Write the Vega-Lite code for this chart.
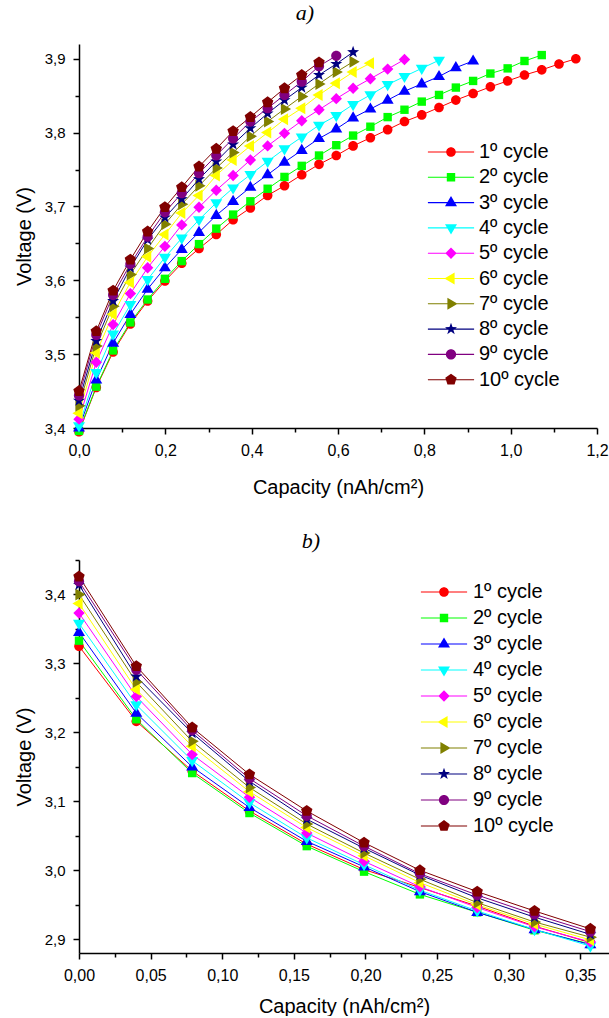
{
  "$schema": "https://vega.github.io/schema/vega-lite/v6.json",
  "background": "white",
  "padding": {"left": 14, "top": 2, "right": 0, "bottom": 0},
  "spacing": 33,
  "datasets": {
    "charge": [
      {"c":"1º cycle","q":0,"v":3.395},{"c":"1º cycle","q":0.040,"v":3.455},{"c":"1º cycle","q":0.079,"v":3.503},{"c":"1º cycle","q":0.119,"v":3.541},{"c":"1º cycle","q":0.159,"v":3.572},{"c":"1º cycle","q":0.199,"v":3.599},{"c":"1º cycle","q":0.238,"v":3.623},{"c":"1º cycle","q":0.278,"v":3.643},{"c":"1º cycle","q":0.318,"v":3.662},{"c":"1º cycle","q":0.357,"v":3.682},{"c":"1º cycle","q":0.397,"v":3.698},{"c":"1º cycle","q":0.437,"v":3.715},{"c":"1º cycle","q":0.476,"v":3.728},{"c":"1º cycle","q":0.516,"v":3.743},{"c":"1º cycle","q":0.556,"v":3.757},{"c":"1º cycle","q":0.596,"v":3.769},{"c":"1º cycle","q":0.635,"v":3.782},{"c":"1º cycle","q":0.675,"v":3.793},{"c":"1º cycle","q":0.715,"v":3.804},{"c":"1º cycle","q":0.754,"v":3.815},{"c":"1º cycle","q":0.794,"v":3.824},{"c":"1º cycle","q":0.834,"v":3.834},{"c":"1º cycle","q":0.873,"v":3.844},{"c":"1º cycle","q":0.913,"v":3.853},{"c":"1º cycle","q":0.953,"v":3.862},{"c":"1º cycle","q":0.993,"v":3.870},{"c":"1º cycle","q":1.032,"v":3.878},{"c":"1º cycle","q":1.072,"v":3.885},{"c":"1º cycle","q":1.112,"v":3.893},{"c":"1º cycle","q":1.151,"v":3.900},
      {"c":"2º cycle","q":0,"v":3.396},{"c":"2º cycle","q":0.040,"v":3.456},{"c":"2º cycle","q":0.079,"v":3.505},{"c":"2º cycle","q":0.119,"v":3.543},{"c":"2º cycle","q":0.159,"v":3.574},{"c":"2º cycle","q":0.199,"v":3.602},{"c":"2º cycle","q":0.238,"v":3.626},{"c":"2º cycle","q":0.278,"v":3.649},{"c":"2º cycle","q":0.318,"v":3.670},{"c":"2º cycle","q":0.357,"v":3.689},{"c":"2º cycle","q":0.397,"v":3.707},{"c":"2º cycle","q":0.437,"v":3.724},{"c":"2º cycle","q":0.476,"v":3.740},{"c":"2º cycle","q":0.516,"v":3.755},{"c":"2º cycle","q":0.556,"v":3.769},{"c":"2º cycle","q":0.596,"v":3.783},{"c":"2º cycle","q":0.635,"v":3.796},{"c":"2º cycle","q":0.675,"v":3.808},{"c":"2º cycle","q":0.715,"v":3.821},{"c":"2º cycle","q":0.754,"v":3.831},{"c":"2º cycle","q":0.794,"v":3.842},{"c":"2º cycle","q":0.834,"v":3.851},{"c":"2º cycle","q":0.873,"v":3.861},{"c":"2º cycle","q":0.913,"v":3.870},{"c":"2º cycle","q":0.953,"v":3.880},{"c":"2º cycle","q":0.993,"v":3.887},{"c":"2º cycle","q":1.032,"v":3.897},{"c":"2º cycle","q":1.072,"v":3.905},
      {"c":"3º cycle","q":0,"v":3.400},{"c":"3º cycle","q":0.040,"v":3.465},{"c":"3º cycle","q":0.079,"v":3.515},{"c":"3º cycle","q":0.119,"v":3.554},{"c":"3º cycle","q":0.159,"v":3.588},{"c":"3º cycle","q":0.199,"v":3.617},{"c":"3º cycle","q":0.238,"v":3.642},{"c":"3º cycle","q":0.278,"v":3.665},{"c":"3º cycle","q":0.318,"v":3.688},{"c":"3º cycle","q":0.357,"v":3.707},{"c":"3º cycle","q":0.397,"v":3.726},{"c":"3º cycle","q":0.437,"v":3.743},{"c":"3º cycle","q":0.476,"v":3.760},{"c":"3º cycle","q":0.516,"v":3.776},{"c":"3º cycle","q":0.556,"v":3.792},{"c":"3º cycle","q":0.596,"v":3.805},{"c":"3º cycle","q":0.635,"v":3.820},{"c":"3º cycle","q":0.675,"v":3.832},{"c":"3º cycle","q":0.715,"v":3.844},{"c":"3º cycle","q":0.754,"v":3.856},{"c":"3º cycle","q":0.794,"v":3.866},{"c":"3º cycle","q":0.834,"v":3.876},{"c":"3º cycle","q":0.873,"v":3.888},{"c":"3º cycle","q":0.913,"v":3.897},
      {"c":"4º cycle","q":0,"v":3.403},{"c":"4º cycle","q":0.040,"v":3.475},{"c":"4º cycle","q":0.079,"v":3.527},{"c":"4º cycle","q":0.119,"v":3.567},{"c":"4º cycle","q":0.159,"v":3.601},{"c":"4º cycle","q":0.199,"v":3.631},{"c":"4º cycle","q":0.238,"v":3.657},{"c":"4º cycle","q":0.278,"v":3.682},{"c":"4º cycle","q":0.318,"v":3.705},{"c":"4º cycle","q":0.357,"v":3.725},{"c":"4º cycle","q":0.397,"v":3.743},{"c":"4º cycle","q":0.437,"v":3.761},{"c":"4º cycle","q":0.476,"v":3.778},{"c":"4º cycle","q":0.516,"v":3.794},{"c":"4º cycle","q":0.556,"v":3.810},{"c":"4º cycle","q":0.596,"v":3.823},{"c":"4º cycle","q":0.635,"v":3.838},{"c":"4º cycle","q":0.675,"v":3.851},{"c":"4º cycle","q":0.715,"v":3.865},{"c":"4º cycle","q":0.754,"v":3.876},{"c":"4º cycle","q":0.794,"v":3.887},{"c":"4º cycle","q":0.834,"v":3.898},
      {"c":"5º cycle","q":0,"v":3.412},{"c":"5º cycle","q":0.040,"v":3.489},{"c":"5º cycle","q":0.079,"v":3.540},{"c":"5º cycle","q":0.119,"v":3.582},{"c":"5º cycle","q":0.159,"v":3.617},{"c":"5º cycle","q":0.199,"v":3.646},{"c":"5º cycle","q":0.238,"v":3.675},{"c":"5º cycle","q":0.278,"v":3.699},{"c":"5º cycle","q":0.318,"v":3.722},{"c":"5º cycle","q":0.357,"v":3.742},{"c":"5º cycle","q":0.397,"v":3.763},{"c":"5º cycle","q":0.437,"v":3.782},{"c":"5º cycle","q":0.476,"v":3.799},{"c":"5º cycle","q":0.516,"v":3.816},{"c":"5º cycle","q":0.556,"v":3.831},{"c":"5º cycle","q":0.596,"v":3.846},{"c":"5º cycle","q":0.635,"v":3.860},{"c":"5º cycle","q":0.675,"v":3.873},{"c":"5º cycle","q":0.715,"v":3.886},{"c":"5º cycle","q":0.754,"v":3.899},
      {"c":"6º cycle","q":0,"v":3.420},{"c":"6º cycle","q":0.040,"v":3.502},{"c":"6º cycle","q":0.079,"v":3.554},{"c":"6º cycle","q":0.119,"v":3.597},{"c":"6º cycle","q":0.159,"v":3.632},{"c":"6º cycle","q":0.199,"v":3.662},{"c":"6º cycle","q":0.238,"v":3.691},{"c":"6º cycle","q":0.278,"v":3.715},{"c":"6º cycle","q":0.318,"v":3.742},{"c":"6º cycle","q":0.357,"v":3.763},{"c":"6º cycle","q":0.397,"v":3.782},{"c":"6º cycle","q":0.437,"v":3.800},{"c":"6º cycle","q":0.476,"v":3.818},{"c":"6º cycle","q":0.516,"v":3.833},{"c":"6º cycle","q":0.556,"v":3.851},{"c":"6º cycle","q":0.596,"v":3.867},{"c":"6º cycle","q":0.635,"v":3.882},{"c":"6º cycle","q":0.675,"v":3.894},
      {"c":"7º cycle","q":0,"v":3.430},{"c":"7º cycle","q":0.040,"v":3.511},{"c":"7º cycle","q":0.079,"v":3.565},{"c":"7º cycle","q":0.119,"v":3.608},{"c":"7º cycle","q":0.159,"v":3.643},{"c":"7º cycle","q":0.199,"v":3.676},{"c":"7º cycle","q":0.238,"v":3.703},{"c":"7º cycle","q":0.278,"v":3.728},{"c":"7º cycle","q":0.318,"v":3.752},{"c":"7º cycle","q":0.357,"v":3.773},{"c":"7º cycle","q":0.397,"v":3.795},{"c":"7º cycle","q":0.437,"v":3.815},{"c":"7º cycle","q":0.476,"v":3.832},{"c":"7º cycle","q":0.516,"v":3.849},{"c":"7º cycle","q":0.556,"v":3.866},{"c":"7º cycle","q":0.596,"v":3.882},{"c":"7º cycle","q":0.635,"v":3.896},
      {"c":"8º cycle","q":0,"v":3.437},{"c":"8º cycle","q":0.040,"v":3.518},{"c":"8º cycle","q":0.079,"v":3.572},{"c":"8º cycle","q":0.119,"v":3.617},{"c":"8º cycle","q":0.159,"v":3.655},{"c":"8º cycle","q":0.199,"v":3.685},{"c":"8º cycle","q":0.238,"v":3.710},{"c":"8º cycle","q":0.278,"v":3.737},{"c":"8º cycle","q":0.318,"v":3.761},{"c":"8º cycle","q":0.357,"v":3.784},{"c":"8º cycle","q":0.397,"v":3.806},{"c":"8º cycle","q":0.437,"v":3.826},{"c":"8º cycle","q":0.476,"v":3.844},{"c":"8º cycle","q":0.516,"v":3.861},{"c":"8º cycle","q":0.556,"v":3.878},{"c":"8º cycle","q":0.596,"v":3.893},{"c":"8º cycle","q":0.635,"v":3.909},
      {"c":"9º cycle","q":0,"v":3.444},{"c":"9º cycle","q":0.040,"v":3.526},{"c":"9º cycle","q":0.079,"v":3.580},{"c":"9º cycle","q":0.119,"v":3.622},{"c":"9º cycle","q":0.159,"v":3.659},{"c":"9º cycle","q":0.199,"v":3.692},{"c":"9º cycle","q":0.238,"v":3.718},{"c":"9º cycle","q":0.278,"v":3.745},{"c":"9º cycle","q":0.318,"v":3.769},{"c":"9º cycle","q":0.357,"v":3.792},{"c":"9º cycle","q":0.397,"v":3.815},{"c":"9º cycle","q":0.437,"v":3.833},{"c":"9º cycle","q":0.476,"v":3.851},{"c":"9º cycle","q":0.516,"v":3.869},{"c":"9º cycle","q":0.556,"v":3.890},{"c":"9º cycle","q":0.596,"v":3.904},
      {"c":"10º cycle","q":0,"v":3.450},{"c":"10º cycle","q":0.040,"v":3.531},{"c":"10º cycle","q":0.079,"v":3.586},{"c":"10º cycle","q":0.119,"v":3.628},{"c":"10º cycle","q":0.159,"v":3.666},{"c":"10º cycle","q":0.199,"v":3.699},{"c":"10º cycle","q":0.238,"v":3.726},{"c":"10º cycle","q":0.278,"v":3.754},{"c":"10º cycle","q":0.318,"v":3.778},{"c":"10º cycle","q":0.357,"v":3.802},{"c":"10º cycle","q":0.397,"v":3.821},{"c":"10º cycle","q":0.437,"v":3.841},{"c":"10º cycle","q":0.476,"v":3.860},{"c":"10º cycle","q":0.516,"v":3.878},{"c":"10º cycle","q":0.556,"v":3.895}
    ],
    "discharge": [
      {"c":"1º cycle","q":0,"v":3.325},{"c":"1º cycle","q":0.040,"v":3.216},{"c":"1º cycle","q":0.079,"v":3.144},{"c":"1º cycle","q":0.119,"v":3.086},{"c":"1º cycle","q":0.159,"v":3.038},{"c":"1º cycle","q":0.199,"v":3.001},{"c":"1º cycle","q":0.238,"v":2.975},{"c":"1º cycle","q":0.278,"v":2.948},{"c":"1º cycle","q":0.318,"v":2.919},{"c":"1º cycle","q":0.357,"v":2.895},
      {"c":"2º cycle","q":0,"v":3.333},{"c":"2º cycle","q":0.040,"v":3.219},{"c":"2º cycle","q":0.079,"v":3.141},{"c":"2º cycle","q":0.119,"v":3.083},{"c":"2º cycle","q":0.159,"v":3.035},{"c":"2º cycle","q":0.199,"v":2.998},{"c":"2º cycle","q":0.238,"v":2.965},{"c":"2º cycle","q":0.278,"v":2.939},{"c":"2º cycle","q":0.318,"v":2.913},{"c":"2º cycle","q":0.357,"v":2.893},
      {"c":"3º cycle","q":0,"v":3.345},{"c":"3º cycle","q":0.040,"v":3.228},{"c":"3º cycle","q":0.079,"v":3.150},{"c":"3º cycle","q":0.119,"v":3.091},{"c":"3º cycle","q":0.159,"v":3.042},{"c":"3º cycle","q":0.199,"v":3.005},{"c":"3º cycle","q":0.238,"v":2.969},{"c":"3º cycle","q":0.278,"v":2.939},{"c":"3º cycle","q":0.318,"v":2.914},{"c":"3º cycle","q":0.357,"v":2.892},
      {"c":"4º cycle","q":0,"v":3.358},{"c":"4º cycle","q":0.040,"v":3.240},{"c":"4º cycle","q":0.079,"v":3.159},{"c":"4º cycle","q":0.119,"v":3.098},{"c":"4º cycle","q":0.159,"v":3.047},{"c":"4º cycle","q":0.199,"v":3.008},{"c":"4º cycle","q":0.238,"v":2.971},{"c":"4º cycle","q":0.278,"v":2.941},{"c":"4º cycle","q":0.318,"v":2.914},{"c":"4º cycle","q":0.357,"v":2.890},
      {"c":"5º cycle","q":0,"v":3.373},{"c":"5º cycle","q":0.040,"v":3.252},{"c":"5º cycle","q":0.079,"v":3.168},{"c":"5º cycle","q":0.119,"v":3.106},{"c":"5º cycle","q":0.159,"v":3.054},{"c":"5º cycle","q":0.199,"v":3.013},{"c":"5º cycle","q":0.238,"v":2.976},{"c":"5º cycle","q":0.278,"v":2.946},{"c":"5º cycle","q":0.318,"v":2.918},{"c":"5º cycle","q":0.357,"v":2.896},
      {"c":"6º cycle","q":0,"v":3.387},{"c":"6º cycle","q":0.040,"v":3.262},{"c":"6º cycle","q":0.079,"v":3.180},{"c":"6º cycle","q":0.119,"v":3.114},{"c":"6º cycle","q":0.159,"v":3.062},{"c":"6º cycle","q":0.199,"v":3.021},{"c":"6º cycle","q":0.238,"v":2.982},{"c":"6º cycle","q":0.278,"v":2.950},{"c":"6º cycle","q":0.318,"v":2.922},{"c":"6º cycle","q":0.357,"v":2.899},
      {"c":"7º cycle","q":0,"v":3.400},{"c":"7º cycle","q":0.040,"v":3.273},{"c":"7º cycle","q":0.079,"v":3.187},{"c":"7º cycle","q":0.119,"v":3.120},{"c":"7º cycle","q":0.159,"v":3.067},{"c":"7º cycle","q":0.199,"v":3.025},{"c":"7º cycle","q":0.238,"v":2.987},{"c":"7º cycle","q":0.278,"v":2.953},{"c":"7º cycle","q":0.318,"v":2.925},{"c":"7º cycle","q":0.357,"v":2.903},
      {"c":"8º cycle","q":0,"v":3.414},{"c":"8º cycle","q":0.040,"v":3.281},{"c":"8º cycle","q":0.079,"v":3.199},{"c":"8º cycle","q":0.119,"v":3.129},{"c":"8º cycle","q":0.159,"v":3.074},{"c":"8º cycle","q":0.199,"v":3.032},{"c":"8º cycle","q":0.238,"v":2.993},{"c":"8º cycle","q":0.278,"v":2.960},{"c":"8º cycle","q":0.318,"v":2.932},{"c":"8º cycle","q":0.357,"v":2.907},
      {"c":"9º cycle","q":0,"v":3.419},{"c":"9º cycle","q":0.040,"v":3.291},{"c":"9º cycle","q":0.079,"v":3.203},{"c":"9º cycle","q":0.119,"v":3.133},{"c":"9º cycle","q":0.159,"v":3.079},{"c":"9º cycle","q":0.199,"v":3.035},{"c":"9º cycle","q":0.238,"v":2.995},{"c":"9º cycle","q":0.278,"v":2.964},{"c":"9º cycle","q":0.318,"v":2.936},{"c":"9º cycle","q":0.357,"v":2.911},
      {"c":"10º cycle","q":0,"v":3.426},{"c":"10º cycle","q":0.040,"v":3.296},{"c":"10º cycle","q":0.079,"v":3.207},{"c":"10º cycle","q":0.119,"v":3.139},{"c":"10º cycle","q":0.159,"v":3.086},{"c":"10º cycle","q":0.199,"v":3.040},{"c":"10º cycle","q":0.238,"v":3.000},{"c":"10º cycle","q":0.278,"v":2.969},{"c":"10º cycle","q":0.318,"v":2.941},{"c":"10º cycle","q":0.357,"v":2.915}
    ]
  },
  "vconcat": [
    {
      "title": {"text": "a)", "dx": -33, "offset": 19},
      "width": 518,
      "height": 384,
      "data": {"name": "charge"},
      "encoding": {
        "x": {"field": "q", "type": "quantitative", "scale": {"domain": [0, 1.2], "nice": false, "zero": false},
              "axis": {"title": "Capacity (nAh/cm²)", "titlePadding": 19,
                       "values": [0, 0.1, 0.2, 0.3, 0.4, 0.5, 0.6, 0.7, 0.8, 0.9, 1.0, 1.1, 1.2],
                       "tickSize": {"condition": {"test": "abs(datum.value*5 - round(datum.value*5)) > 0.01", "value": 4}, "value": 6},
                       "labelExpr": "abs(datum.value*5 - round(datum.value*5)) > 0.01 ? '' : replace(format(datum.value, '.1f'), '.', ',')"}},
        "y": {"field": "v", "type": "quantitative", "scale": {"domain": [3.4, 3.92], "nice": false, "zero": false},
              "axis": {"title": "Voltage (V)",
                       "values": [3.4, 3.45, 3.5, 3.55, 3.6, 3.65, 3.7, 3.75, 3.8, 3.85, 3.9],
                       "tickSize": {"condition": {"test": "abs(datum.value*10 - round(datum.value*10)) > 0.01", "value": 4}, "value": 6},
                       "labelExpr": "abs(datum.value*10 - round(datum.value*10)) > 0.01 ? '' : replace(format(datum.value, '.1f'), '.', ',')"}}
      },
      "layer": [
        {"mark": {"type": "line", "strokeWidth": 1, "clip": false},
         "encoding": {"color": {"field": "c", "type": "nominal", "legend": null,
           "scale": {"domain": ["1º cycle","2º cycle","3º cycle","4º cycle","5º cycle","6º cycle","7º cycle","8º cycle","9º cycle","10º cycle"],
                     "range": ["#ff0000","#00ff00","#0000ff","#00ffff","#ff00ff","#ffff00","#808000","#000080","#800080","#800000"]}}}},
        {"mark": {"type": "point", "filled": true, "size": 144, "opacity": 1, "strokeWidth": 0},
         "encoding": {
           "color": {"field": "c", "type": "nominal", "legend": null,
             "scale": {"domain": ["1º cycle","2º cycle","3º cycle","4º cycle","5º cycle","6º cycle","7º cycle","8º cycle","9º cycle","10º cycle"],
                       "range": ["#ff0000","#00ff00","#0000ff","#00ffff","#ff00ff","#ffff00","#808000","#000080","#800080","#800000"]}},
           "shape": {"field": "c", "type": "nominal", "legend": null,
             "scale": {"domain": ["1º cycle","2º cycle","3º cycle","4º cycle","5º cycle","6º cycle","7º cycle","8º cycle","9º cycle","10º cycle"],
                       "range": ["M-0.8,0A0.8,0.8,0,1,1,0.8,0A0.8,0.8,0,1,1,-0.8,0Z","M-0.7,-0.7H0.7V0.7H-0.7Z","M0,-1.1L1,0.6L-1,0.6Z","M0,1.1L-1,-0.6L1,-0.6Z","M0,-0.95L0.95,0L0,0.95L-0.95,0Z","M-1.1,0L0.6,-1L0.6,1Z","M1.1,0L-0.6,1L-0.6,-1Z","M0,-1.05L0.25,-0.34L1,-0.32L0.4,0.13L0.62,0.85L0,0.42L-0.62,0.85L-0.4,0.13L-1,-0.32L-0.25,-0.34Z","M-0.85,0A0.85,0.85,0,1,1,0.85,0A0.85,0.85,0,1,1,-0.85,0Z","M0,-1L0.95,-0.31L0.59,0.81L-0.59,0.81L-0.95,-0.31Z"]}}}},
        {"transform": [{"filter": "false"}],
         "mark": {"type": "point", "filled": true, "size": 144, "opacity": 1, "strokeWidth": 0},
         "encoding": {
           "color": {"field": "c", "type": "nominal",
             "scale": {"domain": ["1º cycle","2º cycle","3º cycle","4º cycle","5º cycle","6º cycle","7º cycle","8º cycle","9º cycle","10º cycle"],
                       "range": ["#ff0000","#00ff00","#0000ff","#00ffff","#ff00ff","#ffff00","#808000","#000080","#800080","#800000"]},
             "legend": {"orient": "none", "legendX": 362, "legendY": 98, "title": null, "labelOffset": 18, "rowPadding": 5.3, "symbolSize": 144, "symbolStrokeWidth": 0, "padding": 0}},
           "shape": {"field": "c", "type": "nominal",
             "scale": {"domain": ["1º cycle","2º cycle","3º cycle","4º cycle","5º cycle","6º cycle","7º cycle","8º cycle","9º cycle","10º cycle"],
                       "range": ["M-3.85,-0.09H3.85V0.09H-3.85Z M-0.8,0A0.8,0.8,0,1,1,0.8,0A0.8,0.8,0,1,1,-0.8,0Z","M-3.85,-0.09H3.85V0.09H-3.85Z M-0.7,-0.7H0.7V0.7H-0.7Z","M-3.85,-0.09H3.85V0.09H-3.85Z M0,-1.1L1,0.6L-1,0.6Z","M-3.85,-0.09H3.85V0.09H-3.85Z M0,1.1L-1,-0.6L1,-0.6Z","M-3.85,-0.09H3.85V0.09H-3.85Z M0,-0.95L0.95,0L0,0.95L-0.95,0Z","M-3.85,-0.09H3.85V0.09H-3.85Z M-1.1,0L0.6,-1L0.6,1Z","M-3.85,-0.09H3.85V0.09H-3.85Z M1.1,0L-0.6,1L-0.6,-1Z","M-3.85,-0.09H3.85V0.09H-3.85Z M0,-1.05L0.25,-0.34L1,-0.32L0.4,0.13L0.62,0.85L0,0.42L-0.62,0.85L-0.4,0.13L-1,-0.32L-0.25,-0.34Z","M-3.85,-0.09H3.85V0.09H-3.85Z M-0.85,0A0.85,0.85,0,1,1,0.85,0A0.85,0.85,0,1,1,-0.85,0Z","M-3.85,-0.09H3.85V0.09H-3.85Z M0,-1L0.95,-0.31L0.59,0.81L-0.59,0.81L-0.95,-0.31Z"]},
             "legend": {"orient": "none", "legendX": 362, "legendY": 98, "title": null, "labelOffset": 18, "rowPadding": 5.3, "symbolSize": 144, "symbolStrokeWidth": 0, "padding": 0}}}}
      ],
      "resolve": {"scale": {"color": "independent", "shape": "independent"}}
    },
    {
      "title": {"text": "b)", "dx": -33, "offset": 6},
      "width": 530,
      "height": 393,
      "data": {"name": "discharge"},
      "encoding": {
        "x": {"field": "q", "type": "quantitative", "scale": {"domain": [0, 0.37], "nice": false, "zero": false},
              "axis": {"title": "Capacity (nAh/cm²)", "titlePadding": 13,
                       "values": [0, 0.025, 0.05, 0.075, 0.1, 0.125, 0.15, 0.175, 0.2, 0.225, 0.25, 0.275, 0.3, 0.325, 0.35],
                       "tickSize": {"condition": {"test": "abs(datum.value*20 - round(datum.value*20)) > 0.01", "value": 4}, "value": 6},
                       "labelExpr": "abs(datum.value*20 - round(datum.value*20)) > 0.01 ? '' : replace(format(datum.value, '.2f'), '.', ',')"}},
        "y": {"field": "v", "type": "quantitative", "scale": {"domain": [2.88, 3.45], "nice": false, "zero": false},
              "axis": {"title": "Voltage (V)",
                       "values": [2.9, 2.95, 3.0, 3.05, 3.1, 3.15, 3.2, 3.25, 3.3, 3.35, 3.4, 3.45],
                       "tickSize": {"condition": {"test": "abs(datum.value*10 - round(datum.value*10)) > 0.01", "value": 4}, "value": 6},
                       "labelExpr": "abs(datum.value*10 - round(datum.value*10)) > 0.01 ? '' : replace(format(datum.value, '.1f'), '.', ',')"}}
      },
      "layer": [
        {"mark": {"type": "line", "strokeWidth": 1, "clip": false},
         "encoding": {"color": {"field": "c", "type": "nominal", "legend": null,
           "scale": {"domain": ["1º cycle","2º cycle","3º cycle","4º cycle","5º cycle","6º cycle","7º cycle","8º cycle","9º cycle","10º cycle"],
                     "range": ["#ff0000","#00ff00","#0000ff","#00ffff","#ff00ff","#ffff00","#808000","#000080","#800080","#800000"]}}}},
        {"mark": {"type": "point", "filled": true, "size": 144, "opacity": 1, "strokeWidth": 0},
         "encoding": {
           "color": {"field": "c", "type": "nominal", "legend": null,
             "scale": {"domain": ["1º cycle","2º cycle","3º cycle","4º cycle","5º cycle","6º cycle","7º cycle","8º cycle","9º cycle","10º cycle"],
                       "range": ["#ff0000","#00ff00","#0000ff","#00ffff","#ff00ff","#ffff00","#808000","#000080","#800080","#800000"]}},
           "shape": {"field": "c", "type": "nominal", "legend": null,
             "scale": {"domain": ["1º cycle","2º cycle","3º cycle","4º cycle","5º cycle","6º cycle","7º cycle","8º cycle","9º cycle","10º cycle"],
                       "range": ["M-0.8,0A0.8,0.8,0,1,1,0.8,0A0.8,0.8,0,1,1,-0.8,0Z","M-0.7,-0.7H0.7V0.7H-0.7Z","M0,-1.1L1,0.6L-1,0.6Z","M0,1.1L-1,-0.6L1,-0.6Z","M0,-0.95L0.95,0L0,0.95L-0.95,0Z","M-1.1,0L0.6,-1L0.6,1Z","M1.1,0L-0.6,1L-0.6,-1Z","M0,-1.05L0.25,-0.34L1,-0.32L0.4,0.13L0.62,0.85L0,0.42L-0.62,0.85L-0.4,0.13L-1,-0.32L-0.25,-0.34Z","M-0.85,0A0.85,0.85,0,1,1,0.85,0A0.85,0.85,0,1,1,-0.85,0Z","M0,-1L0.95,-0.31L0.59,0.81L-0.59,0.81L-0.95,-0.31Z"]}}}},
        {"transform": [{"filter": "false"}],
         "mark": {"type": "point", "filled": true, "size": 144, "opacity": 1, "strokeWidth": 0},
         "encoding": {
           "color": {"field": "c", "type": "nominal",
             "scale": {"domain": ["1º cycle","2º cycle","3º cycle","4º cycle","5º cycle","6º cycle","7º cycle","8º cycle","9º cycle","10º cycle"],
                       "range": ["#ff0000","#00ff00","#0000ff","#00ffff","#ff00ff","#ffff00","#808000","#000080","#800080","#800000"]},
             "legend": {"orient": "none", "legendX": 355, "legendY": 22, "title": null, "labelOffset": 19, "rowPadding": 6, "symbolSize": 144, "symbolStrokeWidth": 0, "padding": 0}},
           "shape": {"field": "c", "type": "nominal",
             "scale": {"domain": ["1º cycle","2º cycle","3º cycle","4º cycle","5º cycle","6º cycle","7º cycle","8º cycle","9º cycle","10º cycle"],
                       "range": ["M-3.85,-0.09H3.85V0.09H-3.85Z M-0.8,0A0.8,0.8,0,1,1,0.8,0A0.8,0.8,0,1,1,-0.8,0Z","M-3.85,-0.09H3.85V0.09H-3.85Z M-0.7,-0.7H0.7V0.7H-0.7Z","M-3.85,-0.09H3.85V0.09H-3.85Z M0,-1.1L1,0.6L-1,0.6Z","M-3.85,-0.09H3.85V0.09H-3.85Z M0,1.1L-1,-0.6L1,-0.6Z","M-3.85,-0.09H3.85V0.09H-3.85Z M0,-0.95L0.95,0L0,0.95L-0.95,0Z","M-3.85,-0.09H3.85V0.09H-3.85Z M-1.1,0L0.6,-1L0.6,1Z","M-3.85,-0.09H3.85V0.09H-3.85Z M1.1,0L-0.6,1L-0.6,-1Z","M-3.85,-0.09H3.85V0.09H-3.85Z M0,-1.05L0.25,-0.34L1,-0.32L0.4,0.13L0.62,0.85L0,0.42L-0.62,0.85L-0.4,0.13L-1,-0.32L-0.25,-0.34Z","M-3.85,-0.09H3.85V0.09H-3.85Z M-0.85,0A0.85,0.85,0,1,1,0.85,0A0.85,0.85,0,1,1,-0.85,0Z","M-3.85,-0.09H3.85V0.09H-3.85Z M0,-1L0.95,-0.31L0.59,0.81L-0.59,0.81L-0.95,-0.31Z"]},
             "legend": {"orient": "none", "legendX": 355, "legendY": 22, "title": null, "labelOffset": 19, "rowPadding": 6, "symbolSize": 144, "symbolStrokeWidth": 0, "padding": 0}}}}
      ],
      "resolve": {"scale": {"color": "independent", "shape": "independent"}}
    }
  ],
  "resolve": {"scale": {"color": "independent", "shape": "independent", "x": "independent", "y": "independent"}},
  "config": {
    "view": {"stroke": null},
    "axis": {"grid": false, "domainColor": "black", "domainWidth": 1.5, "tickColor": "black", "tickWidth": 1.5,
             "labelFont": "Liberation Sans", "labelFontSize": 15, "labelColor": "black", "labelFlush": false,
             "titleFont": "Liberation Sans", "titleFontSize": 20, "titleFontWeight": "normal", "titleColor": "black"},
    "axisX": {"labelFontSize": 16, "labelPadding": 8},
    "axisY": {"labelPadding": 8, "titlePadding": 10},
    "legend": {"labelFont": "Liberation Sans", "labelFontSize": 20, "labelColor": "black"},
    "title": {"font": "Liberation Serif", "fontStyle": "italic", "fontSize": 22, "fontWeight": "normal", "color": "black", "anchor": "middle"}
  }
}
